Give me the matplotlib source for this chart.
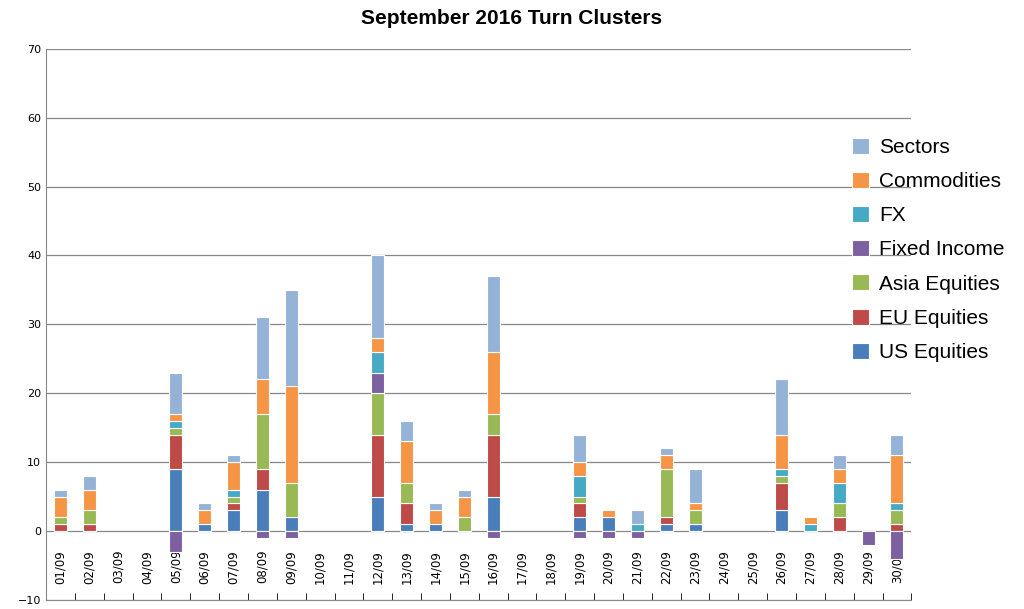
import matplotlib
matplotlib.use("Agg")
import matplotlib.pyplot as plt
import numpy as np

days = [f"{d:02d}/09" for d in range(1, 31)]
us      = [0,0,0,0,9,1,3,6,2,0,0,5,1,1,0,5,0,0,2,2,0,1,1,0,0,3,0,0,0,0]
eu      = [1,1,0,0,5,0,1,3,0,0,0,9,3,0,0,9,0,0,2,0,0,1,0,0,0,4,0,2,0,1]
asia    = [1,2,0,0,1,0,1,8,5,0,0,6,3,0,2,3,0,0,1,0,0,7,2,0,0,1,0,2,0,2]
fixed   = [0,0,0,0,-3,0,0,-1,-1,0,0,3,0,0,0,-1,0,0,-1,-1,-1,0,0,0,0,0,0,0,-2,-4]
fx      = [0,0,0,0,1,0,1,0,0,0,0,3,0,0,0,0,0,0,3,0,1,0,0,0,0,1,1,3,0,1]
comm    = [3,3,0,0,1,2,4,5,14,0,0,2,6,2,3,9,0,0,2,1,0,2,1,0,0,5,1,2,0,7]
sectors = [1,2,0,0,6,1,1,9,14,0,0,12,3,1,1,11,0,0,4,0,2,1,5,0,0,8,0,2,0,3]

series = [("US Equities", us, "#4a7ebb"), ("EU Equities", eu, "#be4b48"),
          ("Asia Equities", asia, "#98b954"), ("Fixed Income", fixed, "#7d60a0"),
          ("FX", fx, "#46aac5"), ("Commodities", comm, "#f69546"),
          ("Sectors", sectors, "#95b3d7")]

fig = plt.figure(figsize=(10.24, 6.09), dpi=100)
ax = fig.add_axes([0.045, 0.015, 0.845, 0.905])
x = np.arange(len(days))
pos = np.zeros(len(days)); neg = np.zeros(len(days))
handles = []
for name, vals, col in series:
    v = np.array(vals, float)
    bottom = np.where(v >= 0, pos, neg)
    mask = v != 0
    h = ax.bar(x[mask], v[mask], 0.45, bottom=bottom[mask], color=col, edgecolor="white",
               linewidth=0.8, label=name)
    pos += np.where(v >= 0, v, 0); neg += np.where(v < 0, v, 0)
    handles.append(h)

ax.set_ylim(-10, 70)
ax.set_xlim(-0.5, len(days) - 0.5)
ax.set_yticks(range(-10, 71, 10))
ax.yaxis.grid(True, color="#888888", linewidth=0.9)
ax.set_axisbelow(True)
ax.tick_params(axis="y", labelsize=8, length=0)
ax.set_xticks(x)
ax.set_xticklabels(days, rotation=90, fontsize=8.5)
ax.tick_params(axis="x", length=0, pad=-36)
ax.set_xticks(np.arange(-0.5, len(days), 1), minor=True)
ax.tick_params(axis="x", which="minor", length=5, direction="in")
for s in ["top", "right"]:
    ax.spines[s].set_visible(False)
ax.spines["left"].set_color("#888888")
ax.spines["bottom"].set_color("#888888")
for lbl in ax.get_xticklabels():
    lbl.set_verticalalignment("top")
fig.suptitle("September 2016 Turn Clusters", x=0.5, y=0.985, fontsize=15, fontweight="bold",
             fontfamily="Liberation Sans")
ax.legend(handles[::-1], [s[0] for s in series][::-1], loc="center left",
          bbox_to_anchor=(0.91, 0.635), frameon=False,
          prop={"family": "Liberation Sans", "size": 15},
          handlelength=0.8, handleheight=0.8, labelspacing=0.72, handletextpad=0.5)
fig.savefig("out.png", dpi=100)
